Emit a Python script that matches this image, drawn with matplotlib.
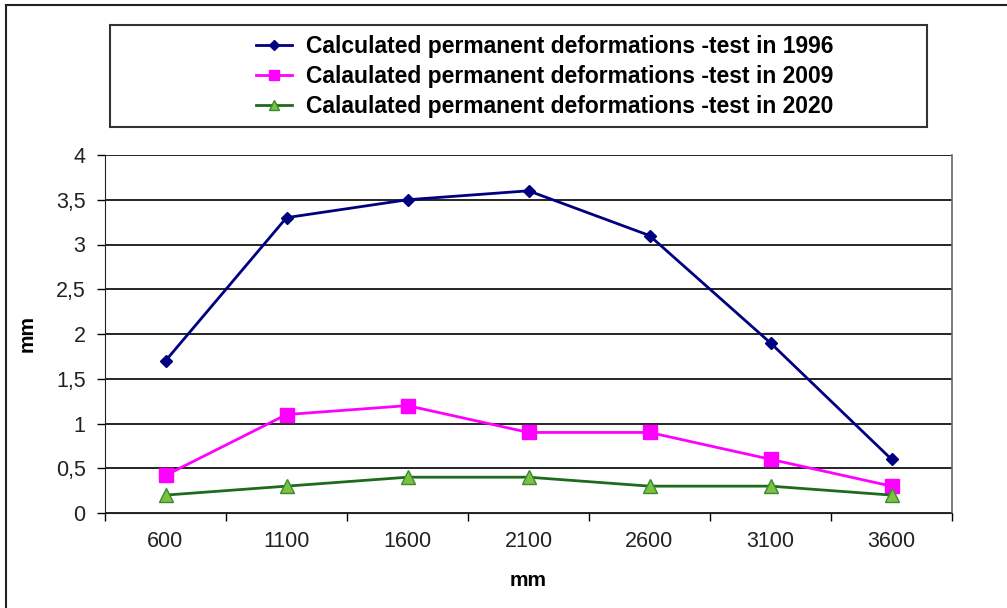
import matplotlib
matplotlib.use("Agg")
import matplotlib.pyplot as plt
from matplotlib.patches import Rectangle
from matplotlib.lines import Line2D

categories = ["600", "1100", "1600", "2100", "2600", "3100", "3600"]
s1996 = [1.7, 3.3, 3.5, 3.6, 3.1, 1.9, 0.6]
s2009 = [0.42, 1.1, 1.2, 0.9, 0.9, 0.6, 0.3]
s2020 = [0.2, 0.3, 0.4, 0.4, 0.3, 0.3, 0.2]
labels = ["Calculated permanent deformations -test in 1996",
          "Calaulated permanent deformations -test in 2009",
          "Calaulated permanent deformations -test in 2020"]
yticks = [0, 0.5, 1, 1.5, 2, 2.5, 3, 3.5, 4]
ytick_labels = ["0", "0,5", "1", "1,5", "2", "2,5", "3", "3,5", "4"]

plt.rcParams['font.family'] = ['Liberation Sans', 'DejaVu Sans']

W, H = 1007, 608
fig = plt.figure(figsize=(W/100, H/100), dpi=100)
fig.patch.set_facecolor("white")

# outer frame (top and left lines visible)
fig.add_artist(Line2D([6/W, 1], [1-5/H, 1-5/H], color="#222222", lw=1.5, transform=fig.transFigure))
fig.add_artist(Line2D([6/W, 6/W], [0, 1-5/H], color="#222222", lw=1.5, transform=fig.transFigure))

left, right, top, bottom = 105, 952, 155, 513
ax = fig.add_axes([left/W, 1-bottom/H, (right-left)/W, (bottom-top)/H])
x = list(range(len(categories)))

l1, = ax.plot(x, s1996, color="#000080", lw=2, marker="D", ms=6.5, mfc="#000080", mec="#000080", zorder=5)
l2, = ax.plot(x, s2009, color="#FF00FF", lw=2, marker="s", ms=9.5, mfc="#FF00FF", mec="#FF00FF", zorder=5)
l3, = ax.plot(x, s2020, color="#1E6B1E", lw=2, marker="^", ms=9.5, mfc="#7CC142", mec="#3C8A2E", zorder=5)

ax.set_xlim(-0.5, len(categories)-0.5)
ax.set_ylim(0, 4)
ax.set_yticks(yticks)
ax.set_yticklabels(ytick_labels, fontsize=15.5, color="#222222")
ax.set_xticks(x)
ax.set_xticklabels(categories, fontsize=15.5, color="#222222")
ax.set_xticks([i-0.5 for i in range(len(categories)+1)], minor=True)
ax.tick_params(axis='x', which='major', length=0, pad=13)
ax.tick_params(axis='x', which='minor', length=6, width=1, direction='out')
ax.tick_params(axis='y', length=6, width=1, direction='out', pad=8)
ax.yaxis.grid(True, color="black", lw=1.2)
ax.set_axisbelow(True)
ax.spines["top"].set_visible(False)
ax.spines["right"].set_color("#666666")
ax.spines["left"].set_color("#222222")
ax.spines["bottom"].set_color("#222222")
ax.spines["right"].set_linewidth(1.2)

ax.set_ylabel("mm", fontsize=15, fontweight="bold", labelpad=14)
ax.set_xlabel("mm", fontsize=15, fontweight="bold", labelpad=14)

# legend box
fig.add_artist(Rectangle((110/W, 1-127/H), (927-110)/W, (127-25)/H, transform=fig.transFigure,
                         fill=False, edgecolor="#333333", lw=1.5))
leg = fig.legend([l1, l2, l3], labels, loc="center", bbox_to_anchor=(545/W, 1-76.5/H),
                 frameon=False, prop={'size': 16.5, 'weight': 'bold'}, handlelength=1.55,
                 labelspacing=0.3, handletextpad=0.65, markerscale=0.8)

fig.savefig("out.png", dpi=100)
